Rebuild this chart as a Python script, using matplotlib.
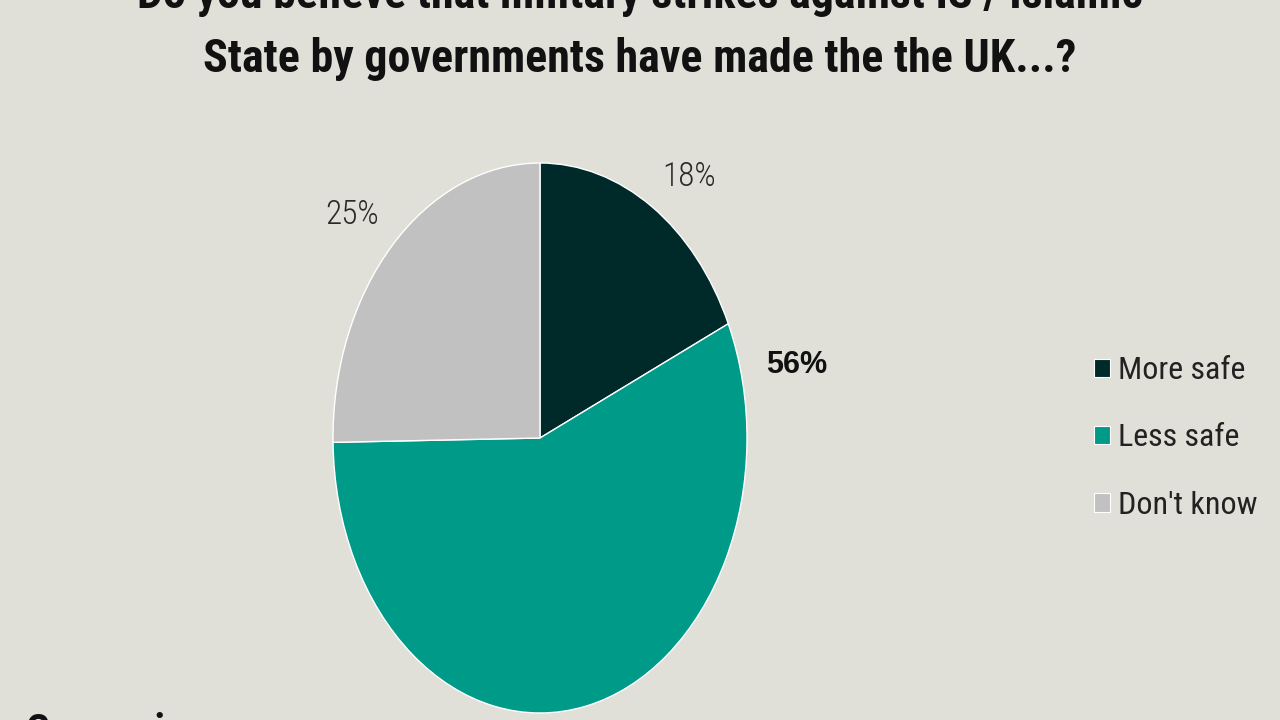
import matplotlib
matplotlib.use("Agg")
import matplotlib.pyplot as plt
from matplotlib import font_manager
from matplotlib.patches import Patch

# dados
categorias = ["More safe", "Less safe", "Don't know"]
valores = [18, 56, 25]
cores = ["#00292a", "#009a89", "#c1c1c1"]

titulo1 = "Do you believe that military strikes against IS / Islamic"
titulo2 = "State by governments have made the the UK...?"

fundo = "#e0e0d9"

nomes = {f.name for f in font_manager.fontManager.ttflist}
def escolher(lista):
    for n in lista:
        if n in nomes:
            return [n, "DejaVu Sans"]
    return ["DejaVu Sans"]

fonte_cond = escolher(["Roboto Condensed", "Archivo Narrow", "Asap Condensed", "Liberation Sans Narrow"])
fonte_neg = escolher(["Liberation Sans", "Arial"])
plt.rcParams['font.family'] = fonte_cond

fig = plt.figure(figsize=(12.8, 7.2), dpi=100, facecolor=fundo)
W, H = 1280, 720

# eixo da pizza (esticada na vertical como na imagem original)
ax = fig.add_axes([333 / W, 7 / H, 414 / W, 550 / H])
ax.set_facecolor(fundo)
fatias, textos = ax.pie(valores, colors=cores, startangle=90, counterclock=False,
                        labels=[f"{v}%" for v in valores], labeldistance=1.2,
                        wedgeprops=dict(edgecolor="white", linewidth=1.0))
ax.set_aspect('auto')
ax.set_xlim(-1, 1)
ax.set_ylim(-1, 1)
ax.axis('off')

for t in textos:
    t.set_fontsize(24)
    t.set_fontweight("light")
    t.set_color("#2a2a2a")
    t.set_ha("center")
    t.set_va("center")

# posições dos rótulos como no original
textos[0].set_position((0.72, 0.95))
textos[2].set_position((-0.91, 0.81))
textos[1].set_position((1.24, 0.265))
textos[1].set_fontweight("bold")
textos[1].set_color("#111111")
textos[1].set_family(fonte_neg)
textos[1].set_fontsize(22)

# título (primeira linha cortada no topo)
r = fig.canvas.get_renderer()
t2 = fig.text(0.5, 1 - 72 / H, titulo2, ha="center", va="baseline",
              fontsize=40, fontweight="bold", color="#111111")
larg = t2.get_window_extent(r).width
tam = 40 * 872 / larg
t2.set_fontsize(tam)
fig.text(0.5, 1 - 8 / H, titulo1, ha="center", va="baseline",
         fontsize=tam, fontweight="bold", color="#111111")

fig.text(25 / W, 1 - 744 / H, "Comparison", ha="left", va="baseline",
         fontsize=30, fontweight="bold", color="#111111")

# legenda
alcas = [Patch(facecolor=c, edgecolor="white", linewidth=0.8) for c in cores]
fig.legend(alcas, categorias, loc="center left", bbox_to_anchor=(1065 / W, 1 - 438 / H),
           frameon=False, fontsize=23, handlelength=0.5, handleheight=0.5,
           handletextpad=0.25, labelspacing=1.2, labelcolor="#222222")

fig.savefig("out.png", dpi=100, facecolor=fundo)
